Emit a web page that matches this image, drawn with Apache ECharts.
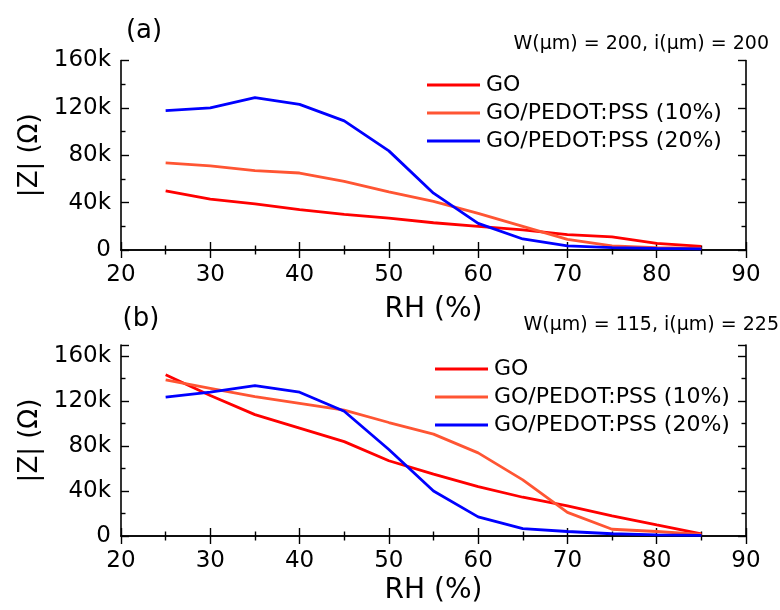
<!DOCTYPE html>
<html>
<head>
<meta charset="utf-8">
<script src="https://cdn.jsdelivr.net/npm/echarts@6/dist/echarts.min.js"></script>
<style>html,body{margin:0;padding:0;background:#fff;}#c{width:780px;height:610px;}</style>
</head>
<body>
<div id="c"></div>
<script>
const rh = [25, 30, 35, 40, 45, 50, 55, 60, 65, 70, 75, 80, 85];
const seriesNames = ['GO', 'GO/PEDOT:PSS (10%)', 'GO/PEDOT:PSS (20%)'];
const goA  = [50000, 43000, 39000, 34000, 30000, 27000, 23000, 20000, 17000, 13000, 11000, 5600, 3000];
const p10A = [73500, 71000, 67000, 65000, 58000, 49000, 41000, 31000, 20000, 9000, 3400, 2000, 1400];
const p20A = [117700, 120000, 128700, 123000, 109000, 83700, 48000, 22500, 9300, 3400, 2000, 1400, 1000];
const goB  = [143600, 125000, 108000, 96000, 84000, 67000, 55000, 44000, 34500, 26800, 18000, 9800, 1800];
const p10B = [139000, 131500, 124000, 118000, 112000, 101000, 90700, 74000, 50000, 21000, 6000, 4000, 1500];
const p20B = [123700, 128000, 133800, 128000, 111000, 77000, 40000, 17000, 6500, 4000, 2000, 1000, 600];
const panelLabels = ['(a)', '(b)'];
const panelNotes = ['W(\u03bcm) = 200, i(\u03bcm) = 200', 'W(\u03bcm) = 115, i(\u03bcm) = 225'];
const xName = 'RH (%)';
const yName = '|Z| (\u03a9)';

const FF = '"DejaVu Sans", sans-serif';
const colors = ['#ff0000', '#ff5533', '#0000ff'];
const chart = echarts.init(document.getElementById('c'));

function pairs(ys) { return rh.map((x, i) => [x, ys[i]]); }
function kfmt(v) { if (v % 40000 !== 0) return ''; return v === 0 ? '0' : (v / 1000) + 'k'; }

const grids = [
  { left: 121, right: 34, top: 60.5, height: 189.5 },
  { left: 121, right: 34, top: 345, height: 191 }
];
const yMax = [160000, 170000];
const nameGaps = [46, 41];

const xAxes = [], yAxes = [], series = [];
const lineStyleAxis = { color: '#000', width: 1.6 };
const tickMajor = { show: true, inside: true, length: 8, lineStyle: { color: '#000', width: 1.4 } };
const tickMinor = { show: true, splitNumber: 2, length: 4.5, lineStyle: { color: '#000', width: 1.4 } };
grids.forEach((g, gi) => {
  xAxes.push({
    type: 'value', gridIndex: gi, min: 20, max: 90, interval: 10, position: 'bottom',
    name: xName, nameLocation: 'middle', nameGap: nameGaps[gi],
    nameTextStyle: { fontFamily: FF, fontSize: 28, color: '#000' },
    axisLine: { show: true, lineStyle: lineStyleAxis },
    axisTick: tickMajor, minorTick: tickMinor,
    axisLabel: { fontFamily: FF, fontSize: 23, color: '#000', margin: 14 },
    splitLine: { show: false }
  });
  xAxes.push({
    type: 'value', gridIndex: gi, min: 20, max: 90, interval: 10, position: 'top',
    axisLine: { show: true, lineStyle: lineStyleAxis },
    axisTick: tickMajor, minorTick: tickMinor,
    axisLabel: { show: false }, splitLine: { show: false }
  });
  yAxes.push({
    type: 'value', gridIndex: gi, min: 0, max: yMax[gi], interval: 40000, position: 'left',
    name: yName, nameLocation: 'middle', nameGap: 78, nameRotate: 90,
    nameTextStyle: { fontFamily: FF, fontSize: 26, color: '#000' },
    axisLine: { show: true, lineStyle: lineStyleAxis },
    axisTick: tickMajor, minorTick: tickMinor,
    axisLabel: { fontFamily: FF, fontSize: 23, color: '#000', margin: 10, formatter: kfmt, showMaxLabel: true },
    splitLine: { show: false }
  });
  yAxes.push({
    type: 'value', gridIndex: gi, min: 0, max: yMax[gi], interval: 40000, position: 'right',
    axisLine: { show: true, lineStyle: lineStyleAxis },
    axisTick: tickMajor, minorTick: tickMinor,
    axisLabel: { show: false }, splitLine: { show: false }
  });
});

const dataSets = [[goA, p10A, p20A], [goB, p10B, p20B]];
dataSets.forEach((set, gi) => {
  set.forEach((ys, si) => {
    series.push({
      type: 'line', name: seriesNames[si], xAxisIndex: gi * 2, yAxisIndex: gi * 2,
      data: pairs(ys), showSymbol: false, symbol: 'none', color: colors[si],
      lineStyle: { width: 2.8, color: colors[si] }, animation: false, z: 2 + si
    });
  });
});

const legendBase = {
  orient: 'vertical', padding: 0, itemWidth: 53, itemHeight: 3, itemGap: 6, icon: 'rect',
  textStyle: { fontFamily: FF, fontSize: 22, color: '#000', padding: [0, 0, 0, 1] },
  data: seriesNames, selectedMode: false
};

chart.setOption({
  animation: false,
  backgroundColor: '#fff',
  grid: grids,
  xAxis: xAxes,
  yAxis: yAxes,
  series: series,
  legend: [
    Object.assign({}, legendBase, { left: 427, top: 74 }),
    Object.assign({}, legendBase, { left: 435, top: 358 })
  ],
  graphic: [
    { type: 'text', style: { text: panelLabels[0], x: 144, y: 31.5, align: 'center', verticalAlign: 'middle', font: '26px ' + FF, fill: '#000' } },
    { type: 'text', style: { text: panelLabels[1], x: 141, y: 319, align: 'center', verticalAlign: 'middle', font: '26px ' + FF, fill: '#000' } },
    { type: 'text', style: { text: panelNotes[0], x: 769, y: 44.5, align: 'right', verticalAlign: 'middle', font: '19px ' + FF, fill: '#000' } },
    { type: 'text', style: { text: panelNotes[1], x: 779, y: 325, align: 'right', verticalAlign: 'middle', font: '19px ' + FF, fill: '#000' } }
  ]
});
</script>
</body>
</html>
